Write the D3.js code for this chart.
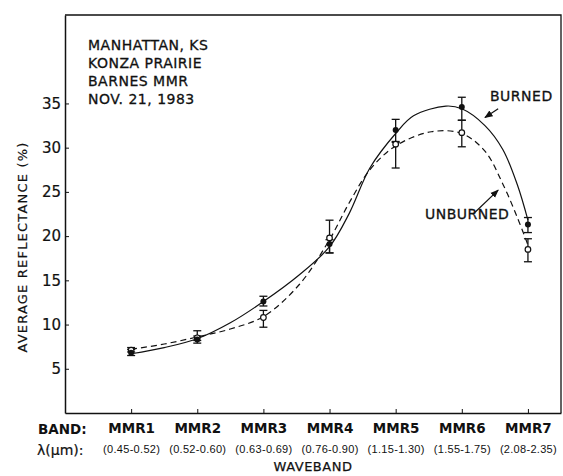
<!DOCTYPE html>
<html>
<head>
<meta charset="utf-8">
<script src="https://cdn.jsdelivr.net/npm/d3@7"></script>
<style>
  html, body { margin: 0; padding: 0; background: #fff; }
  svg { display: block; font-family: "DejaVu Sans", sans-serif; }
</style>
</head>
<body>
<svg id="chart" width="563" height="476"></svg>
<script>
// ---- data ----
const categories = ["MMR1", "MMR2", "MMR3", "MMR4", "MMR5", "MMR6", "MMR7"];
const wavebands = ["(0.45-0.52)", "(0.52-0.60)", "(0.63-0.69)", "(0.76-0.90)", "(1.15-1.30)", "(1.55-1.75)", "(2.08-2.35)"];
const yTicks = [5, 10, 15, 20, 25, 30, 35];

// measured means and error-bar ends (average reflectance, %)
const burned      = [6.8, 8.3, 12.6, 19.1, 32.0, 34.6, 21.3];
const burnedLow   = [6.5, 7.9, 12.1, 18.1, 30.7, 33.1, 20.4];
const burnedHigh  = [7.2, 8.7, 13.2, 19.6, 33.2, 35.7, 22.1];
const unburned     = [7.1, 8.5, 10.8, 19.8, 30.4, 31.7, 18.5];
const unburnedLow  = [6.9, 8.2, 9.7, 18.1, 27.7, 30.1, 17.1];
const unburnedHigh = [7.4, 9.3, 11.6, 21.8, 30.6, 33.1, 19.7];

// fitted curves (band index, reflectance)
const burnedCurveX = [0, 0.5, 1, 1.5, 2, 2.54, 3, 3.3, 3.61, 4, 4.27, 4.76, 5, 5.35, 5.62, 5.84, 6];
const burnedCurveY = [6.7, 7.4, 8.4, 10.2, 12.6, 15.6, 18.8, 22.6, 27.7, 31.6, 33.6, 34.7, 34.4, 32.5, 29.8, 25.8, 21.8];
const unburnedCurveX = [0, 0.5, 1, 1.5, 2, 2.54, 3, 3.3, 3.61, 4, 4.54, 5, 5.35, 5.62, 5.84, 6];
const unburnedCurveY = [7.2, 7.8, 8.6, 9.5, 10.9, 14.5, 19.6, 23.8, 27.5, 30.2, 31.8, 31.6, 29.6, 25.9, 22.1, 19.0];

const annotation = ["MANHATTAN, KS", "KONZA PRAIRIE", "BARNES MMR", "NOV. 21, 1983"];

// ---- layout ----
const svg = d3.select("#chart");
const L = 65, R = 561, T = 15, B = 413;
const x = d3.scaleLinear().domain([-1, categories.length - 0.5]).range([L, R]);
const y = d3.scaleLinear().domain([0, 45]).range([B, T]);
const ink = "#111";

// frame (top and right)
svg.append("path")
  .attr("d", `M${L},${T}H${R}V${B}`)
  .attr("fill", "none").attr("stroke", ink).attr("stroke-width", 1.3);

// y axis
const yAxis = svg.append("g").attr("transform", `translate(${L},0)`)
  .call(d3.axisLeft(y).tickValues(yTicks).tickSizeInner(-4).tickSizeOuter(0).tickPadding(4));
yAxis.select(".domain").attr("stroke", ink).attr("stroke-width", 1.5);
yAxis.selectAll(".tick line").attr("stroke", ink);
yAxis.selectAll(".tick text").attr("font-size", 15).attr("fill", ink)
  .attr("stroke", ink).attr("stroke-width", 0.2)
  .attr("font-family", "DejaVu Sans, sans-serif");

// x axis
const xAxis = svg.append("g").attr("transform", `translate(0,${B})`)
  .call(d3.axisBottom(x).tickValues(d3.range(categories.length))
    .tickFormat(i => categories[i]).tickSizeInner(-4).tickSizeOuter(0).tickPadding(10));
xAxis.select(".domain").attr("stroke", ink).attr("stroke-width", 1.5);
xAxis.selectAll(".tick line").attr("stroke", ink);
xAxis.selectAll(".tick text").attr("font-size", 13.5).attr("font-weight", "bold").attr("fill", ink)
  .attr("font-family", "DejaVu Sans, sans-serif");
xAxis.selectAll(".tick").append("text")
  .attr("y", 40).attr("fill", ink).attr("font-size", 11).attr("letter-spacing", 0.3)
  .attr("text-anchor", "middle")
  .text(i => wavebands[i]);

// row headers
svg.append("text").attr("x", 38).attr("y", 434).attr("font-size", 13.5).attr("font-weight", "bold")
  .attr("fill", ink).text("BAND:");
svg.append("text").attr("x", 37).attr("y", 455).attr("font-size", 14).attr("fill", ink)
  .attr("stroke", ink).attr("stroke-width", 0.2).text("λ(μm):");

// axis titles
svg.append("text").attr("x", (L + R) / 2).attr("y", 471).attr("text-anchor", "middle")
  .attr("font-size", 13).attr("letter-spacing", 0.5).attr("fill", ink)
  .attr("stroke", ink).attr("stroke-width", 0.25).text("WAVEBAND");
svg.append("text").attr("transform", "translate(27,247) rotate(-90)").attr("text-anchor", "middle")
  .attr("font-size", 13).attr("letter-spacing", 1.2).attr("fill", ink)
  .attr("stroke", ink).attr("stroke-width", 0.2).text("AVERAGE REFLECTANCE (%)");

// annotation block
svg.append("g").selectAll("text").data(annotation).join("text")
  .attr("x", 88).attr("y", (d, i) => 50 + i * 18)
  .attr("font-size", 14).attr("letter-spacing", 0.5).attr("fill", ink)
  .attr("stroke", ink).attr("stroke-width", 0.3).text(d => d);

// curves
const line = d3.line().x(d => x(d[0])).y(d => y(d[1])).curve(d3.curveCatmullRom.alpha(0.5));
svg.append("path").datum(burnedCurveX.map((v, i) => [v, burnedCurveY[i]]))
  .attr("d", line).attr("fill", "none").attr("stroke", ink).attr("stroke-width", 1.2);
svg.append("path").datum(unburnedCurveX.map((v, i) => [v, unburnedCurveY[i]]))
  .attr("d", line).attr("fill", "none").attr("stroke", ink).attr("stroke-width", 1.2)
  .attr("stroke-dasharray", "6,4");

// error bars
function errorBars(lo, hi) {
  const g = svg.append("g").attr("stroke", ink).attr("stroke-width", 1.3);
  categories.forEach((c, i) => {
    g.append("line").attr("x1", x(i)).attr("x2", x(i)).attr("y1", y(lo[i])).attr("y2", y(hi[i]));
    g.append("line").attr("x1", x(i) - 4).attr("x2", x(i) + 4).attr("y1", y(lo[i])).attr("y2", y(lo[i]));
    g.append("line").attr("x1", x(i) - 4).attr("x2", x(i) + 4).attr("y1", y(hi[i])).attr("y2", y(hi[i]));
  });
}
errorBars(burnedLow, burnedHigh);
errorBars(unburnedLow, unburnedHigh);

// markers
svg.append("g").selectAll("circle").data(unburned).join("circle")
  .attr("cx", (d, i) => x(i)).attr("cy", d => y(d)).attr("r", 2.8)
  .attr("fill", "#fff").attr("stroke", ink).attr("stroke-width", 1.2);
svg.append("g").selectAll("circle").data(burned).join("circle")
  .attr("cx", (d, i) => x(i)).attr("cy", d => y(d)).attr("r", 3)
  .attr("fill", ink);

// labels with arrows
const defs = svg.append("defs");
defs.append("marker").attr("id", "ah").attr("viewBox", "0 0 10 10").attr("refX", 9).attr("refY", 5)
  .attr("markerWidth", 7).attr("markerHeight", 7).attr("orient", "auto")
  .append("path").attr("d", "M0,1L10,5L0,9Z").attr("fill", ink);

svg.append("text").attr("x", 490).attr("y", 101).attr("font-size", 14).attr("letter-spacing", 0.5)
  .attr("fill", ink).attr("stroke", ink).attr("stroke-width", 0.3).text("BURNED");
svg.append("line").attr("x1", x(5.55)).attr("y1", y(34.4)).attr("x2", x(5.35)).attr("y2", y(33.4))
  .attr("stroke", ink).attr("stroke-width", 1.2).attr("marker-end", "url(#ah)");

svg.append("text").attr("x", 425).attr("y", 219).attr("font-size", 14).attr("letter-spacing", 0.5)
  .attr("fill", ink).attr("stroke", ink).attr("stroke-width", 0.3).text("UNBURNED");
svg.append("line").attr("x1", x(5.2)).attr("y1", y(22.7)).attr("x2", x(5.55)).attr("y2", y(25.2))
  .attr("stroke", ink).attr("stroke-width", 1.2).attr("marker-end", "url(#ah)");
</script>
</body>
</html>
